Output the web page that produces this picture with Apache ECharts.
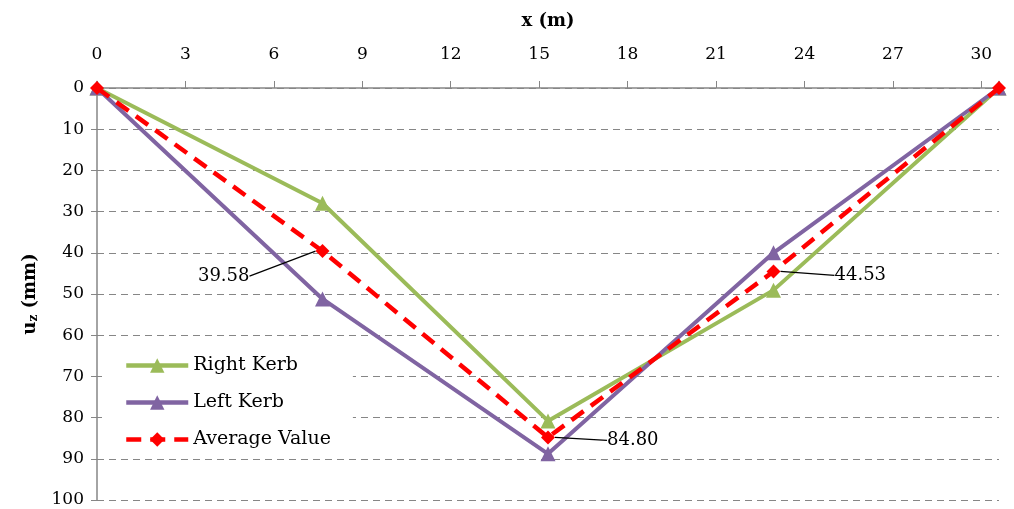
<!DOCTYPE html>
<html>
<head>
<meta charset="utf-8">
<script src="https://cdn.jsdelivr.net/npm/echarts@6/dist/echarts.min.js"></script>
<style>
  html, body { margin: 0; padding: 0; background: #fff; }
  #chart { width: 1014px; height: 509px; }
</style>
</head>
<body>
<div id="chart"></div>
<script>
// x positions (m) and vertical displacement u_z (mm)
const xPos = [0, 7.65, 15.3, 22.95, 30.6];
const rightKerb = [0, 27.96, 80.8, 49.06, 0];
const leftKerb = [0, 51.2, 88.8, 40.0, 0];
const averageValue = [0, 39.58, 84.80, 44.53, 0];
const xTicks = [0, 3, 6, 9, 12, 15, 18, 21, 24, 27, 30];
const yTicks = [0, 10, 20, 30, 40, 50, 60, 70, 80, 90, 100];

const font = 'DejaVu Serif';
const pair = ys => ys.map((y, i) => [xPos[i], y]);

// where each labelled average point puts its text
const labelMoves = {
  1: { pos: 'left', dx: -62, dy: 25 },
  2: { pos: 'right', dx: 48, dy: 3 },
  3: { pos: 'right', dx: 50, dy: 4 }
};

let chart = echarts.init(document.getElementById('chart'));

chart.setOption({
  animation: false,
  grid: { left: 97, right: 15, top: 88, bottom: 9 },
  legend: {
    left: 102, top: 350,
    orient: 'vertical',
    backgroundColor: '#fff',
    padding: [6, 22, 6, 22],
    itemGap: 18,
    itemWidth: 62,
    itemHeight: 18,
    textStyle: { fontFamily: font, fontSize: 19, color: '#000' },
    data: [
      { name: 'Right Kerb', lineStyle: { width: 4.5 } },
      { name: 'Left Kerb', lineStyle: { width: 4.5 } },
      { name: 'Average Value', lineStyle: { width: 4.5 } }
    ]
  },
  xAxis: {
    type: 'value',
    position: 'top',
    min: 0, max: 30.6, interval: 3,
    name: 'x (m)',
    nameLocation: 'middle',
    nameGap: 58,
    nameTextStyle: { fontFamily: font, fontSize: 18, fontWeight: 'bold', color: '#000' },
    axisLine: { show: true, lineStyle: { color: '#868686', width: 1.5 } },
    axisTick: { show: true, inside: false, length: 7, lineStyle: { color: '#868686' } },
    axisLabel: {
      margin: 25,
      fontFamily: font, fontSize: 17, color: '#000',
      formatter: v => (xTicks.indexOf(v) >= 0 ? String(v) : '')
    },
    splitLine: { show: false }
  },
  yAxis: {
    type: 'value',
    inverse: true,
    min: 0, max: 100, interval: 10,
    name: '{b|u}{s|z}{b| (mm)}',
    nameLocation: 'middle',
    nameRotate: 90,
    nameGap: 57,
    nameTextStyle: {
      rich: {
        b: { fontFamily: font, fontSize: 18, fontWeight: 'bold', color: '#000' },
        s: { fontFamily: font, fontSize: 12, fontWeight: 'bold', color: '#000', verticalAlign: 'bottom', padding: [8, 0, 0, 0] }
      }
    },
    axisLine: { show: true, lineStyle: { color: '#868686', width: 1.5 } },
    axisTick: { show: true, inside: false, length: 6, lineStyle: { color: '#868686' } },
    axisLabel: {
      margin: 13,
      fontFamily: font, fontSize: 17, color: '#000',
      formatter: v => (yTicks.indexOf(v) >= 0 ? String(v) : '')
    },
    splitLine: { show: true, lineStyle: { color: '#868686', type: [7, 5], width: 1.2 } }
  },
  series: [
    {
      name: 'Right Kerb',
      type: 'line',
      data: pair(rightKerb),
      symbol: 'triangle',
      symbolSize: 15,
      lineStyle: { color: '#9BBB59', width: 4 },
      itemStyle: { color: '#9BBB59' },
      z: 2
    },
    {
      name: 'Left Kerb',
      type: 'line',
      data: pair(leftKerb),
      symbol: 'triangle',
      symbolSize: 15,
      lineStyle: { color: '#8064A2', width: 4 },
      itemStyle: { color: '#8064A2' },
      z: 3
    },
    {
      name: 'Average Value',
      type: 'line',
      data: pair(averageValue).map((p, i) => {
        const m = labelMoves[i];
        if (!m) return p;
        return {
          value: p,
          label: {
            show: true,
            position: m.pos,
            distance: 4,
            formatter: averageValue[i].toFixed(2),
            fontFamily: font, fontSize: 18, color: '#000'
          },
          labelLine: { show: true, lineStyle: { color: '#000', width: 1.2 } }
        };
      }),
      symbol: 'diamond',
      symbolSize: 14,
      lineStyle: { color: '#FF0000', width: 4.5, type: [15, 9] },
      itemStyle: { color: '#FF0000' },
      labelLayout: params => {
        const m = labelMoves[params.dataIndex];
        return m ? { dx: m.dx, dy: m.dy } : {};
      },
      z: 4
    }
  ]
});
</script>
</body>
</html>
